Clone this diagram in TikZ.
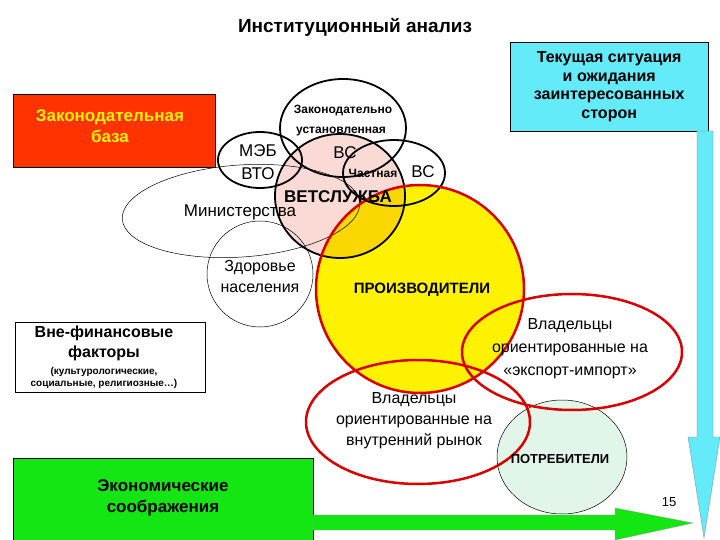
\documentclass[tikz,border=0pt]{standalone}
\usepackage{fontspec}
\setmainfont{Liberation Sans}
\begin{document}
\begin{tikzpicture}[x=1pt,y=-1pt,
  blk/.style={draw=black,line width=1.8pt},
  thin/.style={draw=black,line width=0.5pt},
  redl/.style={draw=red!85!black,line width=2.5pt},
  lbl/.style={font=\fontsize{17}{19}\selectfont,align=center,inner sep=0pt}]
\useasboundingbox (0,0) rectangle (720,540);
\definecolor{pinkf}{RGB}{250,218,212}
\definecolor{goldf}{RGB}{250,215,0}
\definecolor{cyanf}{RGB}{100,235,250}
\definecolor{greenf}{RGB}{20,230,20}
\definecolor{potf}{RGB}{225,245,232}
\definecolor{redf}{RGB}{255,51,0}
\node[font=\bfseries\fontsize{19}{22}\selectfont] (title) at (355,27) {Институционный анализ};
% fills
\fill[pinkf] (340,196) ellipse (65 and 62);
\fill[yellow] (420,289) circle (104);
\begin{scope}\clip (340,196) ellipse (65 and 62); \fill[goldf] (420,289) circle (104);\end{scope}
\fill[potf] (562,457) ellipse (65 and 57);
% outlines
\draw[thin,rotate around={4:(241,211)}] (241,211) ellipse (119 and 46);
\draw[thin] (260,274) circle (53);
\draw[thin] (562,457) ellipse (65 and 57);
\draw[blk] (260,160) ellipse (42 and 28);
\draw[blk] (343,128) ellipse (63 and 49);
\draw[blk] (394,173) ellipse (51 and 33);
\draw[blk] (340,196) ellipse (65 and 62);
\draw[redl] (420,289) circle (104);
\draw[redl] (572,352) ellipse (110 and 58);
\draw[redl] (418,422) ellipse (112 and 62);
% boxes
\node[fill=redf,draw=black,line width=0.4pt,minimum width=202,minimum height=73,anchor=north west,inner sep=0pt] (zb) at (13,94) {};
\node[font=\bfseries\fontsize{17}{21}\selectfont,text=yellow,align=center,anchor=north] (zbt) at (110,106) {Законодательная\\база};
\node[fill=cyanf,draw=black,line width=0.4pt,minimum width=198,minimum height=89,anchor=north west,inner sep=0pt,font=\bfseries\fontsize{16}{18.5}\selectfont,align=center] (cur) at (510,42) {Текущая ситуация\\и ожидания\\заинтересованных\\сторон};
\node[draw=black,line width=0.4pt,minimum width=190,minimum height=70,anchor=north west,inner sep=0pt] (vf) at (15,322) {};
\node[font=\bfseries\fontsize{16}{20}\selectfont,align=center] (vft) at (104,343) {Вне-финансовые\\факторы};
\node[font=\bfseries\fontsize{10}{12}\selectfont,align=center] (vfs) at (104,378) {(культурологические,\\социальные, религиозные…)};
\node[fill=greenf,draw=black,line width=0.4pt,minimum width=300,minimum height=82,anchor=north west,inner sep=0pt] (ec) at (13,458) {};
\node[font=\bfseries\fontsize{17}{21}\selectfont,align=center] (ect) at (163,498) {Экономические\\соображения};
% arrows
\fill[greenf,draw=black!40,line width=0.3pt] (313,515) -- (615,515) -- (615,508) -- (693,523) -- (615,540) -- (615,530) -- (313,530) -- cycle;
\fill[cyanf,draw=black!50,line width=0.3pt] (697,131) -- (713,131) -- (713,437) -- (720,437) -- (704,538) -- (688,437) -- (697,437) -- cycle;
% labels
\node[font=\bfseries\fontsize{12}{14}\selectfont] (zu1) at (343,111) {Законодательно};
\node[font=\bfseries\fontsize{12}{14}\selectfont] (zu2) at (341,132) {установленная};
\node[lbl] (vs) at (345,153) {ВС};
\node[lbl] (meb) at (258,151) {МЭБ};
\node[lbl] (vto) at (258,174) {ВТО};
\node[font=\bfseries\fontsize{12}{14}\selectfont] (ch) at (373,173) {Частная};
\node[lbl] (vs2) at (423,172) {ВС};
\node[font=\bfseries\fontsize{17}{19}\selectfont] (vet) at (338,197) {ВЕТСЛУЖБА};
\node[lbl] (min) at (240,212) {Министерства};
\node[lbl,font=\fontsize{16}{21}\selectfont] (zd) at (260,276) {Здоровье\\населения};
\node[font=\bfseries\fontsize{15}{17}\selectfont] (pr) at (422,290) {ПРОИЗВОДИТЕЛИ};
\node[lbl,font=\fontsize{16}{23}\selectfont] (exp) at (570,349) {Владельцы\\ориентированные на\\«экспорт-импорт»};
\node[lbl,font=\fontsize{16}{21}\selectfont] (vn) at (414,421) {Владельцы\\ориентированные на\\внутренний рынок};
\node[font=\bfseries\fontsize{13}{15}\selectfont] (pot) at (560,459) {ПОТРЕБИТЕЛИ};
\node[font=\fontsize{13}{15}\selectfont] (num) at (669,502) {15};
\end{tikzpicture}
\end{document}
